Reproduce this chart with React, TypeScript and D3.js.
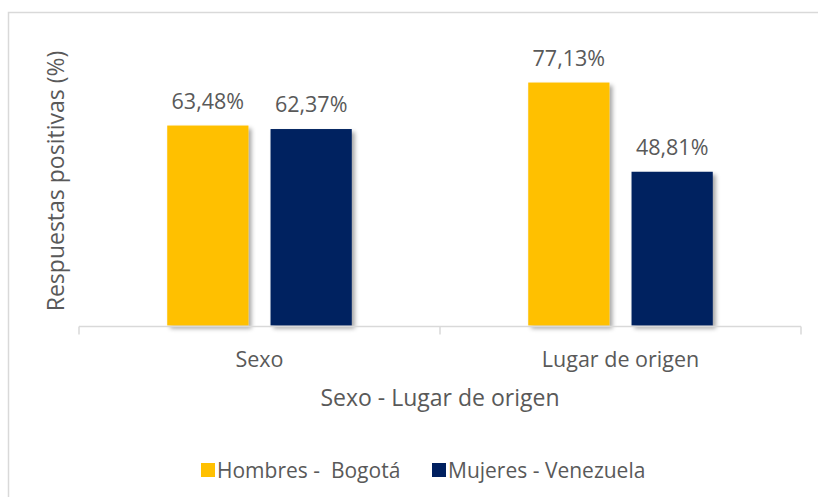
import React from "react";
import * as d3 from "d3";

const categories = ["Sexo", "Lugar de origen"];
const seriesNames = ["Hombres -  Bogotá", "Mujeres - Venezuela"];
const hombresBogota = [63.48, 77.13];
const mujeresVenezuela = [62.37, 48.81];
const seriesColors = ["#FFC000", "#002060"];

const W = 818;
const H = 497;
const FONT = "'Open Sans', 'Noto Sans', sans-serif";
const TXT = "#595959";

export default function App() {
  const x = d3.scaleBand<string>().domain(categories).range([79, 801]).paddingInner(0).paddingOuter(0);
  const xi = d3
    .scaleBand<string>()
    .domain(seriesNames)
    .range([0, x.bandwidth()])
    .paddingInner(22 / 103)
    .paddingOuter(0.854);
  const y = d3.scaleLinear().domain([0, 90]).range([325.5, 42]);
  const values = [hombresBogota, mujeresVenezuela];
  const fmt = (v: number) => v.toFixed(2).replace(".", ",") + "%";
  const axisY = 326.5;
  const ticks = [...categories.map((c) => x(c)!), x(categories[categories.length - 1])! + x.bandwidth()];

  return (
    <div style={{ position: "absolute", left: 0, top: 0 }}>
      <svg width={W} height={H} style={{ display: "block", background: "#fff" }}>
        <defs>
          <filter id="sh" x="-20%" y="-10%" width="150%" height="130%">
            <feDropShadow dx="3" dy="3" stdDeviation="2" floodColor="#000" floodOpacity="0.35" />
          </filter>
        </defs>
        <rect x={8.5} y={12.5} width={W + 20} height={H + 20} fill="#fff" stroke="#d9d9d9" strokeWidth={1.5} />
        {seriesNames.map((s, si) =>
          categories.map((c, ci) => {
            const v = values[si][ci];
            const bx = x(c)! + xi(s)!;
            return (
              <g key={s + c}>
                <rect
                  x={bx}
                  y={y(v)}
                  width={xi.bandwidth()}
                  height={y(0) - y(v)}
                  fill={seriesColors[si]}
                  filter="url(#sh)"
                />
                <text
                  x={bx + xi.bandwidth() / 2}
                  y={y(v) - 17}
                  textAnchor="middle"
                  fontFamily={FONT}
                  fontSize={21.5}
                  fill={TXT}
                >
                  {fmt(v)}
                </text>
              </g>
            );
          })
        )}
        <line x1={ticks[0]} x2={ticks[ticks.length - 1]} y1={axisY} y2={axisY} stroke="#d9d9d9" strokeWidth={1.5} />
        {ticks.map((t, i) => (
          <line key={i} x1={t} x2={t} y1={axisY} y2={axisY + 8} stroke="#d9d9d9" strokeWidth={1.5} />
        ))}
        {categories.map((c) => (
          <text
            key={c}
            x={x(c)! + x.bandwidth() / 2}
            y={367}
            textAnchor="middle"
            fontFamily={FONT}
            fontSize={21.5}
            fill={TXT}
          >
            {c}
          </text>
        ))}
        <text x={440} y={406} textAnchor="middle" fontFamily={FONT} fontSize={23} fill={TXT}>
          Sexo - Lugar de origen
        </text>
        <text
          transform={`translate(64,181) rotate(-90)`}
          textAnchor="middle"
          fontFamily={FONT}
          fontSize={23}
          fill={TXT}
        >
          Respuestas positivas (%)
        </text>
        {seriesNames.map((s, i) => {
          const lx = [201, 432][i];
          return (
            <g key={s}>
              <rect x={lx} y={463} width={14} height={14} fill={seriesColors[i]} />
              <text x={lx + 16} y={478} fontFamily={FONT} fontSize={21} fill={TXT} style={{ whiteSpace: "pre" }}>
                {s}
              </text>
            </g>
          );
        })}
      </svg>
    </div>
  );
}
